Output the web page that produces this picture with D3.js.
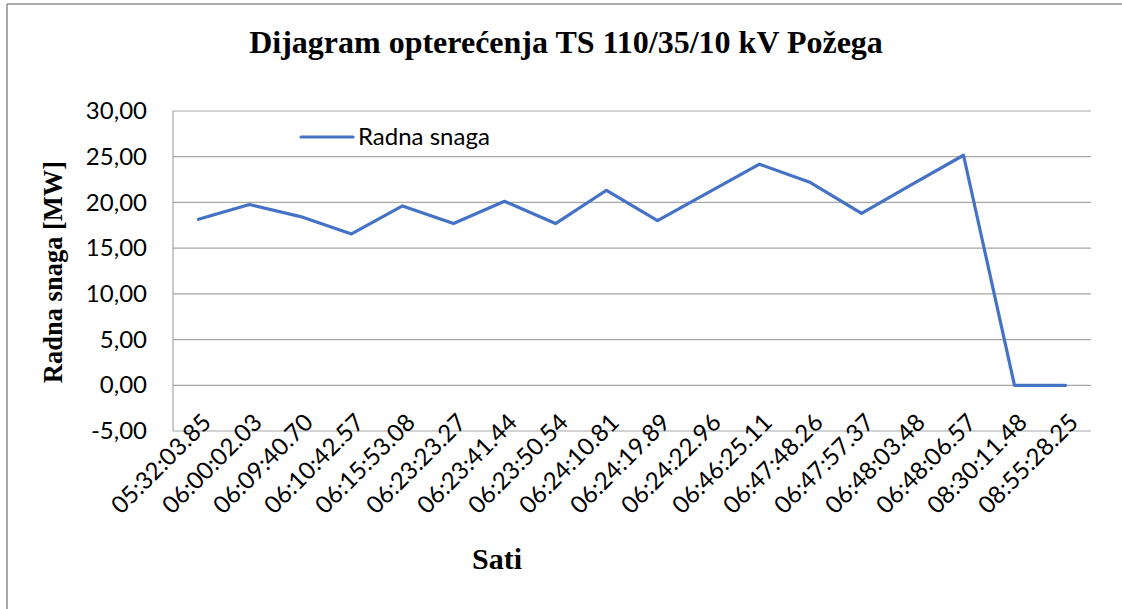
<!DOCTYPE html>
<html>
<head>
<meta charset="utf-8">
<script src="https://d3js.org/d3.v7.min.js"></script>
<style>
  html, body { margin: 0; padding: 0; background: #fff; }
  svg { display: block; }
</style>
</head>
<body>
<svg id="chart" width="1122" height="609"></svg>
<script>
const categories = ["05:32:03.85","06:00:02.03","06:09:40.70","06:10:42.57","06:15:53.08","06:23:23.27","06:23:41.44","06:23:50.54","06:24:10.81","06:24:19.89","06:24:22.96","06:46:25.11","06:47:48.26","06:47:57.37","06:48:03.48","06:48:06.57","08:30:11.48","08:55:28.25"];
const values = [18.16, 19.77, 18.45, 16.55, 19.62, 17.69, 20.13, 17.69, 21.33, 18.02, 21.1, 24.18, 22.17, 18.8, 22.0, 25.16, 0.0, 0.0];
const yTicks = [-5, 0, 5, 10, 15, 20, 25, 30];
const seriesName = "Radna snaga";
const titleText = "Dijagram opterećenja TS 110/35/10 kV Požega";
const yTitle = "Radna snaga [MW]";
const xTitle = "Sati";

const svg = d3.select("#chart");
const plot = {left: 173, right: 1091, top: 111, bottom: 431};

// outer frame (top and left edges visible)
svg.append("line").attr("x1", 7).attr("y1", 4).attr("x2", 1122).attr("y2", 4)
  .attr("stroke", "#8c8c8c").attr("stroke-width", 1.5);
svg.append("line").attr("x1", 7).attr("y1", 4).attr("x2", 7).attr("y2", 609)
  .attr("stroke", "#8c8c8c").attr("stroke-width", 1.5);

const x = d3.scaleBand().domain(categories).range([plot.left, plot.right]);
const y = d3.scaleLinear().domain([-5, 30]).range([plot.bottom, plot.top]);

// gridlines
svg.append("g").selectAll("line").data(yTicks).join("line")
  .attr("x1", plot.left).attr("x2", plot.right)
  .attr("y1", d => y(d)).attr("y2", d => y(d))
  .attr("stroke", "#a6a6a6").attr("stroke-width", 1.2);
// vertical axis line
svg.append("line").attr("x1", plot.left).attr("x2", plot.left)
  .attr("y1", plot.top).attr("y2", plot.bottom)
  .attr("stroke", "#a6a6a6").attr("stroke-width", 1.2);

// y axis labels
const fmt = d => d3.format(".2f")(d).replace(".", ",").replace("\u2212", "-");
const yAxis = d3.axisLeft(y).tickValues(yTicks).tickFormat(fmt).tickSize(0).tickPadding(26);
const gy = svg.append("g").attr("transform", `translate(${plot.left},0)`).call(yAxis);
gy.select(".domain").remove();
gy.selectAll("text").attr("font-family", "Lato, sans-serif").attr("font-size", 24).attr("fill", "#000");

// x axis labels
const xAxis = d3.axisBottom(x).tickSize(0).tickPadding(0);
const gx = svg.append("g").attr("transform", `translate(0,${plot.bottom})`).call(xAxis);
gx.select(".domain").remove();
gx.selectAll("text")
  .attr("font-family", "Lato, sans-serif").attr("font-size", 24).attr("fill", "#000")
  .attr("text-anchor", "end").attr("y", 0).attr("dy", 0)
  .attr("transform", "translate(14,-7) rotate(-45)");

// line
const line = d3.line().x((d, i) => x(categories[i]) + x.bandwidth() / 2).y(d => y(d));
svg.append("path").datum(values)
  .attr("d", line).attr("fill", "none")
  .attr("stroke", "#4472c4").attr("stroke-width", 3.2)
  .attr("stroke-linejoin", "round").attr("stroke-linecap", "round");

// legend
svg.append("line").attr("x1", 301).attr("x2", 353).attr("y1", 137).attr("y2", 137)
  .attr("stroke", "#4472c4").attr("stroke-width", 3.2).attr("stroke-linecap", "round");
svg.append("text").attr("x", 358).attr("y", 137).attr("dy", "0.35em")
  .attr("font-family", "Lato, sans-serif").attr("font-size", 24).text(seriesName);

// title
svg.append("text").attr("x", 566).attr("y", 53).attr("text-anchor", "middle")
  .attr("font-family", "'Liberation Serif', 'Times New Roman', serif")
  .attr("font-weight", "bold").attr("font-size", 32).text(titleText);

// y title
svg.append("text").attr("transform", "translate(62,272) rotate(-90)")
  .attr("text-anchor", "middle")
  .attr("font-family", "'Liberation Serif', 'Times New Roman', serif")
  .attr("font-weight", "bold").attr("font-size", 26.5).text(yTitle);

// x title
svg.append("text").attr("x", 497).attr("y", 569).attr("text-anchor", "middle")
  .attr("font-family", "'Liberation Serif', 'Times New Roman', serif")
  .attr("font-weight", "bold").attr("font-size", 30).text(xTitle);
</script>
</body>
</html>
